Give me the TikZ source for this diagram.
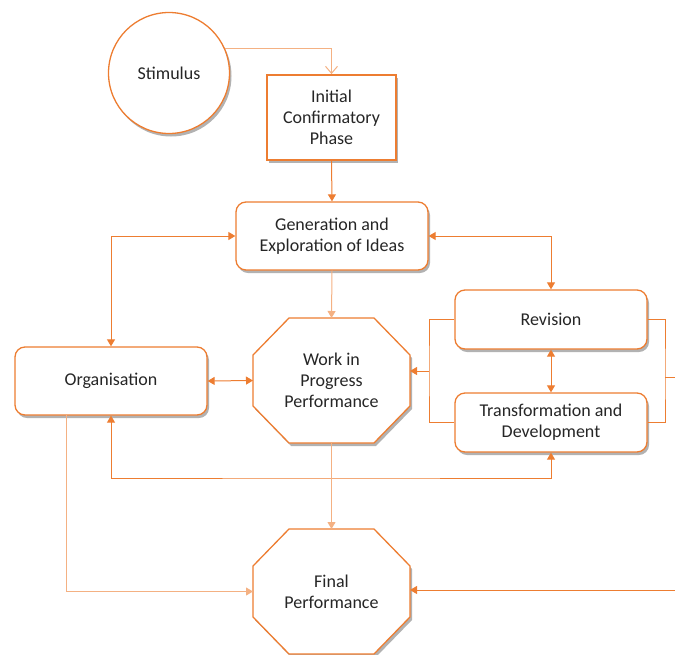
\documentclass[tikz,border=0pt]{standalone}
\usepackage{fontspec}
\setmainfont{Carlito}
\usetikzlibrary{arrows.meta,shadows,calc,backgrounds}
\definecolor{accent}{HTML}{ED7D31}
\definecolor{accentlight}{HTML}{F4B183}

% octagonal outline around a (borderless) node: #1 node name, #2 corner cut in x, #3 corner cut in y
\newcommand{\octoutline}[3]{%
  \path[boxbase]
    ($(#1.north west)+(#2,0)$) -- ($(#1.north east)+(-#2,0)$) --
    ($(#1.north east)+(0,#3)$) -- ($(#1.south east)+(0,-#3)$) --
    ($(#1.south east)+(-#2,0)$) -- ($(#1.south west)+(#2,0)$) --
    ($(#1.south west)+(0,-#3)$) -- ($(#1.north west)+(0,#3)$) -- cycle;}

\begin{document}
\begin{tikzpicture}[x=1pt,y=-1pt,
  every node/.style={font=\fontsize{18}{21}\selectfont, align=center, text=black!85},
  shadowed/.style={drop shadow={shadow xshift=2pt,shadow yshift=-3pt,opacity=0.3,fill=black}},
  boxbase/.style={draw=accent, line width=1.3pt, fill=white, shadowed, inner sep=2pt},
  roundbox/.style={boxbase, rectangle, rounded corners=10pt, minimum width=192pt},
  octa/.style={rectangle, inner sep=0pt, outer sep=0pt, minimum width=157pt, minimum height=125pt},
  link/.style={draw=accent, line width=1pt},
  thinlink/.style={draw=accentlight, line width=1pt},
  tip/.style={-{Triangle[length=7pt,width=8pt]}},
  bothtips/.style={{Triangle[length=7pt,width=8pt]}-{Triangle[length=7pt,width=8pt]}},
]
\useasboundingbox (0,0) rectangle (675,654);

% shapes
\node[boxbase, circle, minimum size=121pt] (stim) at (169,73) {Stimulus};
\node[boxbase, rectangle, line width=1.8pt, minimum width=129pt, minimum height=85pt]
  (icp) at (331.5,117.5) {Initial\\Confirmatory\\Phase};
\node[roundbox, minimum height=68pt] (gen) at (332,236) {Generation and\\Exploration of Ideas};
\node[roundbox, minimum height=68pt] (org) at (111,381) {Organisation};
\node[roundbox, minimum height=59pt] (rev) at (551,319.5) {Revision};
\node[roundbox, minimum height=59pt] (trans) at (551,422.5) {Transformation and\\Development};
\node[octa] (wip) at (331.5,380.5) {Work in\\Progress\\Performance};
\node[octa] (fin) at (331.5,591.5) {Final\\Performance};
\begin{scope}[on background layer]
  \octoutline{wip}{36}{37}
  \octoutline{fin}{36}{37}
\end{scope}

% helper points for the routed connectors
\coordinate (lb) at (429,371);
\coordinate (rb) at (665,377);
\coordinate (redge) at (675,377);
\coordinate (fedge) at (675,590);
\coordinate (loop) at (331,478);
\coordinate (ob) at (66,415);

% connectors
\draw[thinlink, -{Straight Barb[length=7pt,width=12pt]}] (stim.24) -| (icp.north);
\draw[link, tip] (icp.south) -- (gen.north);
\draw[link, bothtips] (org.north) |- (gen.west);
\draw[link, bothtips] (gen.east) -| (rev.north);
\draw[thinlink, tip] (gen.south) -- (wip.north);
\draw[link, bothtips] (org.east) -- (wip.west);
\draw[link, bothtips] (rev.south) -- (trans.north);
\draw[link] (rev.west) -| (lb) |- (trans.west);
\draw[link, tip] (lb) -- (wip.east |- lb);
\draw[link] (rev.east) -| (rb) |- (trans.east);
\draw[link] (rb) -- (redge);
\draw[link, bothtips] (org.south) |- (loop) -| (trans.south);
\draw[thinlink, tip] (ob) |- (fin.west);
\draw[thinlink, tip] (wip.south) -- (fin.north);
\draw[link, tip] (fedge) -- (fin.east |- fedge);
\end{tikzpicture}
\end{document}
